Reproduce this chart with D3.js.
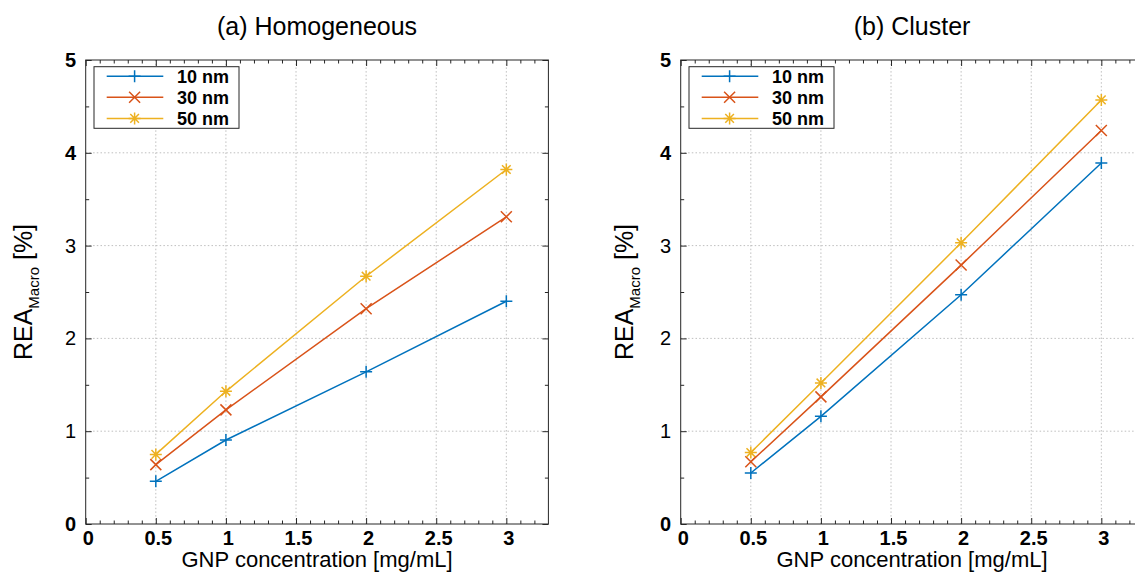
<!DOCTYPE html>
<html>
<head>
<meta charset="utf-8">
<script src="https://cdn.jsdelivr.net/npm/d3@7"></script>
<style>
  html, body { margin: 0; padding: 0; background: #fff; }
  svg { display: block; font-family: "Liberation Sans", Arial, sans-serif; }
</style>
</head>
<body>
<svg id="chart" width="1135" height="575"></svg>
<script>
// ---- data ----
const xValues = [0.5, 1, 2, 3];
const seriesNames = ["10 nm", "30 nm", "50 nm"];
const seriesColors = ["#0072BD", "#D95319", "#EDB120"];
const seriesMarkers = ["plus", "cross", "star"];

const panelTitles = ["(a) Homogeneous", "(b) Cluster"];

const homogeneous10nm = [0.46, 0.905, 1.64, 2.40];
const homogeneous30nm = [0.64, 1.23, 2.32, 3.31];
const homogeneous50nm = [0.75, 1.43, 2.67, 3.82];

const cluster10nm = [0.55, 1.16, 2.47, 3.89];
const cluster30nm = [0.67, 1.37, 2.79, 4.24];
const cluster50nm = [0.77, 1.52, 3.03, 4.57];

const xTicks = [0, 0.5, 1, 1.5, 2, 2.5, 3];
const xTickLabels = ["0", "0.5", "1", "1.5", "2", "2.5", "3"];
const yTicks = [0, 1, 2, 3, 4, 5];
const yTickLabels = ["0", "1", "2", "3", "4", "5"];
const xDomain = [0, 3.3];
const yDomain = [0, 5];

const xLabel = "GNP concentration [mg/mL]";
const yLabelMain = "REA";
const yLabelSub = "Macro";
const yLabelTail = " [%]";

// ---- layout ----
const W = 1135, H = 575;
const plotTop = 60, plotBottom = 524, plotWidth = 462.7;
const panels = [
  { left: 85.7, ylabX: 32, title: panelTitles[0], series: [homogeneous10nm, homogeneous30nm, homogeneous50nm] },
  { left: 680.7, ylabX: 633, title: panelTitles[1], series: [cluster10nm, cluster30nm, cluster50nm] }
];

const svg = d3.select("#chart");

function markerPath(type, r) {
  if (type === "plus") return `M${-r},0H${r}M0,${-r}V${r}`;
  if (type === "cross") return `M${-r},${-r}L${r},${r}M${-r},${r}L${r},${-r}`;
  const d = r * 0.72;
  return `M${-r},0H${r}M0,${-r}V${r}M${-d},${-d}L${d},${d}M${-d},${d}L${d},${-d}`;
}
const markerSize = { plus: 6, cross: 5.5, star: 6 };

const axisColor = "#262626";
const gridColor = "#b8b8b8";

panels.forEach((p, pi) => {
  const g = svg.append("g").attr("transform", `translate(${p.left},0)`);
  const x = d3.scaleLinear().domain(xDomain).range([0, plotWidth]);
  const y = d3.scaleLinear().domain(yDomain).range([plotBottom, plotTop]);

  g.append("rect").attr("x", 0).attr("y", plotTop)
    .attr("width", plotWidth).attr("height", plotBottom - plotTop).attr("fill", "#fff");

  // grid
  const grid = g.append("g");
  grid.selectAll(".gx").data(xTicks.filter(v => v > 0)).join("line")
    .attr("x1", d => x(d)).attr("x2", d => x(d))
    .attr("y1", plotTop).attr("y2", plotBottom)
    .attr("stroke", gridColor).attr("stroke-width", 0.9).attr("stroke-dasharray", "1.5,2.2");
  grid.selectAll(".gy").data(yTicks.filter(v => v > yDomain[0] && v < yDomain[1])).join("line")
    .attr("x1", 0).attr("x2", plotWidth)
    .attr("y1", d => y(d)).attr("y2", d => y(d))
    .attr("stroke", gridColor).attr("stroke-width", 0.9).attr("stroke-dasharray", "1.5,2.2");

  const xMinor = d3.range(1, 33).map(i => i / 10).filter(v => !xTicks.some(t => Math.abs(t - v) < 1e-9));
  const yMinor = [0.5, 1.5, 2.5, 3.5, 4.5];

  const styleAxis = sel => {
    sel.select(".domain").remove();
    sel.selectAll(".tick line").attr("stroke", axisColor).attr("stroke-width", 1);
  };

  // bottom
  const bottom = g.append("g").attr("transform", `translate(0,${plotBottom})`)
    .call(d3.axisBottom(x).tickValues(xTicks).tickSizeInner(-6).tickSizeOuter(0)
      .tickPadding(6.5).tickFormat((d, i) => xTickLabels[i]));
  styleAxis(bottom);
  bottom.selectAll(".tick text").attr("fill", "#000").attr("font-size", 20)
    .attr("font-weight", "bold").attr("dx", 2).attr("font-family", "Liberation Sans, Arial, sans-serif");
  g.append("g").attr("transform", `translate(0,${plotBottom})`)
    .call(d3.axisBottom(x).tickValues(xMinor).tickSizeInner(-3.5).tickSizeOuter(0).tickFormat(""))
    .call(styleAxis);

  // top
  g.append("g").attr("transform", `translate(0,${plotTop})`)
    .call(d3.axisTop(x).tickValues(xTicks).tickSizeInner(-6).tickSizeOuter(0).tickFormat(""))
    .call(styleAxis);
  g.append("g").attr("transform", `translate(0,${plotTop})`)
    .call(d3.axisTop(x).tickValues(xMinor).tickSizeInner(-3.5).tickSizeOuter(0).tickFormat(""))
    .call(styleAxis);

  // left
  const left = g.append("g")
    .call(d3.axisLeft(y).tickValues(yTicks).tickSizeInner(-6).tickSizeOuter(0)
      .tickPadding(9.5).tickFormat((d, i) => yTickLabels[i]));
  styleAxis(left);
  left.selectAll(".tick text").attr("fill", "#000").attr("font-size", 20)
    .attr("font-family", "Liberation Sans, Arial, sans-serif")
    .attr("font-weight", d => (d === 0 || d >= 4) ? "bold" : "normal");
  g.append("g")
    .call(d3.axisLeft(y).tickValues(yMinor).tickSizeInner(-3.5).tickSizeOuter(0).tickFormat(""))
    .call(styleAxis);

  // right
  g.append("g").attr("transform", `translate(${plotWidth},0)`)
    .call(d3.axisRight(y).tickValues(yTicks).tickSizeInner(-6).tickSizeOuter(0).tickFormat(""))
    .call(styleAxis);
  g.append("g").attr("transform", `translate(${plotWidth},0)`)
    .call(d3.axisRight(y).tickValues(yMinor).tickSizeInner(-3.5).tickSizeOuter(0).tickFormat(""))
    .call(styleAxis);

  // box
  g.append("rect").attr("x", 0).attr("y", plotTop)
    .attr("width", plotWidth).attr("height", plotBottom - plotTop)
    .attr("fill", "none").attr("stroke", axisColor).attr("stroke-width", 1);

  // series
  const line = d3.line().x((d, i) => x(xValues[i])).y(d => y(d));
  p.series.forEach((vals, si) => {
    g.append("path").datum(vals).attr("d", line)
      .attr("fill", "none").attr("stroke", seriesColors[si]).attr("stroke-width", 1.5);
    g.selectAll(null).data(vals).join("path")
      .attr("transform", (d, i) => `translate(${x(xValues[i])},${y(d)})`)
      .attr("d", markerPath(seriesMarkers[si], markerSize[seriesMarkers[si]]))
      .attr("fill", "none").attr("stroke", seriesColors[si]).attr("stroke-width", 1.5);
  });

  // legend
  const lg = g.append("g").attr("transform", `translate(8.3,66.7)`);
  lg.append("rect").attr("x", 0).attr("y", 0).attr("width", 145).attr("height", 61.6)
    .attr("fill", "#fff").attr("stroke", axisColor).attr("stroke-width", 1);
  seriesNames.forEach((name, si) => {
    const ry = 9.5 + si * 21.1;
    lg.append("line").attr("x1", 12.7).attr("x2", 69.3).attr("y1", ry).attr("y2", ry)
      .attr("stroke", seriesColors[si]).attr("stroke-width", 1.5);
    lg.append("path").attr("transform", `translate(40.6,${ry})`)
      .attr("d", markerPath(seriesMarkers[si], markerSize[seriesMarkers[si]]))
      .attr("fill", "none").attr("stroke", seriesColors[si]).attr("stroke-width", 1.5);
    lg.append("text").attr("x", 83).attr("y", ry + 6.3)
      .attr("font-size", 18).attr("font-weight", "bold").attr("fill", "#000").text(name);
  });

  // title
  g.append("text").attr("x", plotWidth / 2).attr("y", 34.5)
    .attr("text-anchor", "middle").attr("font-size", 25).attr("fill", "#000").text(p.title);

  // x label
  g.append("text").attr("x", plotWidth / 2).attr("y", 566.5)
    .attr("text-anchor", "middle").attr("font-size", 22).attr("fill", "#000").text(xLabel);

  // y label
  const yl = svg.append("text")
    .attr("transform", `translate(${p.ylabX},${(plotTop + plotBottom) / 2}) rotate(-90)`)
    .attr("text-anchor", "middle").attr("font-size", 25).attr("fill", "#000");
  yl.append("tspan").text(yLabelMain);
  yl.append("tspan").attr("font-size", 15).attr("dy", 7).text(yLabelSub);
  yl.append("tspan").attr("dy", -7).text(yLabelTail);
});
</script>
</body>
</html>
